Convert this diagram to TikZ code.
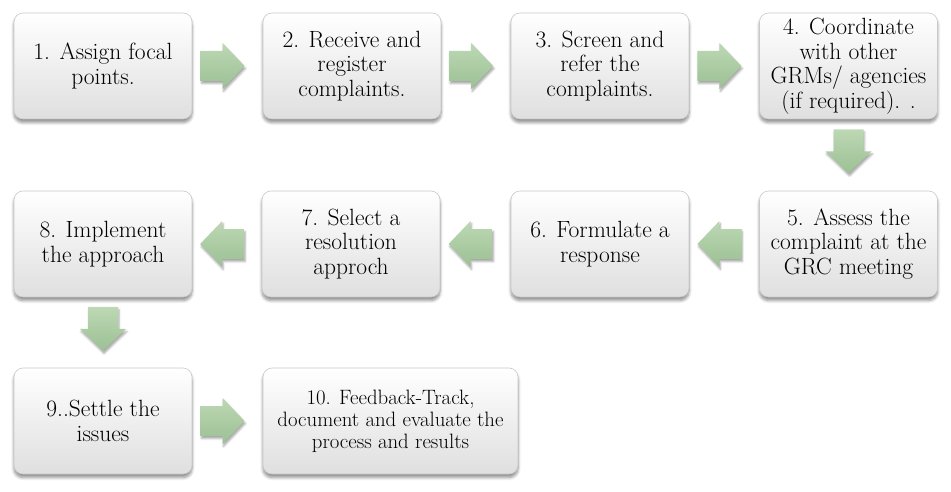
\documentclass[tikz,border=0pt]{standalone}
\usepackage{fontspec}
\usetikzlibrary{shadows.blur,calc}
\definecolor{boxedge}{HTML}{C9C9C9}
\definecolor{boxbot}{HTML}{DFDFDF}
\definecolor{artop}{HTML}{BCD8B4}
\definecolor{arbot}{HTML}{9CC094}
\tikzset{
  stepbox/.style={rectangle, rounded corners=9pt, draw=boxedge, line width=0.6pt,
    top color=white, bottom color=boxbot, minimum width=178pt, minimum height=106pt,
    inner sep=2pt, align=center, font=\rmfamily\fontsize{23.5}{24.5}\selectfont,
    blur shadow={shadow xshift=0pt, shadow yshift=-3.5pt, shadow blur steps=6, shadow opacity=45, shadow blur radius=3pt}},
  arrowfill/.style={draw=none, top color=artop, bottom color=arbot,
    blur shadow={shadow xshift=1pt, shadow yshift=-2.5pt, shadow blur steps=4, shadow opacity=35, shadow blur radius=2pt}},
  blockarrow/.pic={
    \path[arrowfill] (-22,-15) -- (0,-15) -- (0,-23) -- (22,0) -- (0,23) -- (0,15) -- (-22,15) -- cycle;
  }
}
\begin{document}
\begin{tikzpicture}[x=1pt,y=-1pt]
\useasboundingbox (0,0) rectangle (951,492);
\node[stepbox] (b1) at (103,66) {1. Assign focal\\points.};
\node[stepbox] (b2) at (352,66) {2. Receive and\\register\\complaints.};
\node[stepbox] (b3) at (600,66) {3. Screen and\\refer the\\complaints.};
\node[stepbox] (b4) at (848.5,66) {4. Coordinate\\with other\\GRMs/ agencies\\(if required). .};
\node[stepbox] (b5) at (848.5,244) {5. Assess the\\complaint at the\\GRC meeting};
\node[stepbox] (b6) at (600,244) {6. Formulate a\\response};
\node[stepbox] (b7) at (351,244) {7. Select a\\resolution\\approch};
\node[stepbox] (b8) at (103,244) {8. Implement\\the approach};
\node[stepbox] (b9) at (103,421) {9..Settle the\\issues};
\node[stepbox, minimum width=255pt, font=\rmfamily\fontsize{20.8}{22}\selectfont] (b10) at (390.5,421) {10. Feedback-Track,\\document and evaluate the\\process and results};
\coordinate (a12) at ($(b1.east)!0.43!(b2.west)$);
\coordinate (a23) at ($(b2.east)!0.43!(b3.west)$);
\coordinate (a34) at ($(b3.east)!0.43!(b4.west)$);
\coordinate (a45) at ($(b4.south)!0.45!(b5.north)$);
\coordinate (a56) at ($(b5.west)!0.57!(b6.east)$);
\coordinate (a67) at ($(b6.west)!0.57!(b7.east)$);
\coordinate (a78) at ($(b7.west)!0.57!(b8.east)$);
\coordinate (a89) at ($(b8.south)!0.45!(b9.north)$);
\coordinate (a910) at ($(b9.east)!0.43!(b10.west)$);
\pic at (a12) {blockarrow};
\pic at (a23) {blockarrow};
\pic at (a34) {blockarrow};
\pic[rotate=-90] at (a45) {blockarrow};
\pic[rotate=180] at (a56) {blockarrow};
\pic[rotate=180] at (a67) {blockarrow};
\pic[rotate=180] at (a78) {blockarrow};
\pic[rotate=-90] at (a89) {blockarrow};
\pic at (a910) {blockarrow};
\end{tikzpicture}
\end{document}
